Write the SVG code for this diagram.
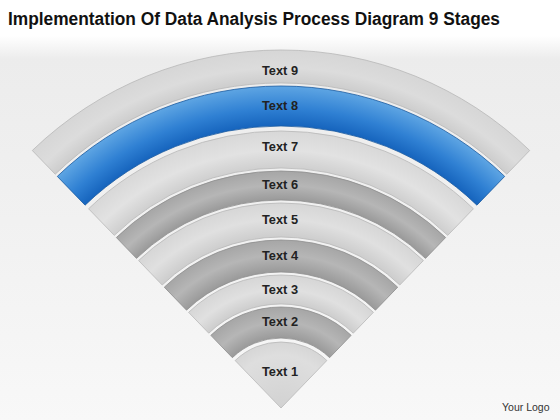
<svg xmlns="http://www.w3.org/2000/svg" width="560" height="420" viewBox="0 0 560 420">
<style>
.t{font-family:"Liberation Sans",Arial,sans-serif;font-weight:bold;font-size:13.5px;fill:#222;text-anchor:middle}
.ti{font-family:"Liberation Sans",Arial,sans-serif;font-weight:bold;font-size:17.5px;fill:#111}
.lg{font-family:"Liberation Sans",Arial,sans-serif;font-size:10.5px;fill:#333}
.lt{stroke:#b8b8b8;stroke-width:0.8}
.dk{stroke:#8e8e8e;stroke-width:0.8}
.bl{stroke:#1a5aa0;stroke-width:0.8}
</style>
<defs>
<linearGradient id="bg" x1="0" y1="0" x2="0" y2="420" gradientUnits="userSpaceOnUse">
<stop offset="0" stop-color="#ffffff"/>
<stop offset="0.085" stop-color="#ffffff"/>
<stop offset="0.14" stop-color="#ececec"/>
<stop offset="0.6" stop-color="#f2f2f2"/>
<stop offset="1" stop-color="#f8f8f8"/>
</linearGradient>
<radialGradient id="g9" cx="281" cy="408" r="358" gradientUnits="userSpaceOnUse"><stop offset="0.908" stop-color="#cdcdcd"/><stop offset="0.95" stop-color="#dcdcdc"/><stop offset="1" stop-color="#d6d6d6"/></radialGradient>
<radialGradient id="g8" cx="281" cy="408" r="322" gradientUnits="userSpaceOnUse"><stop offset="0.876" stop-color="#1664bd"/><stop offset="0.93" stop-color="#2f80d3"/><stop offset="1" stop-color="#5ea5e3"/></radialGradient>
<radialGradient id="g7" cx="281" cy="408" r="277" gradientUnits="userSpaceOnUse"><stop offset="0.866" stop-color="#cfcfcf"/><stop offset="0.93" stop-color="#e2e2e2"/><stop offset="1" stop-color="#d8d8d8"/></radialGradient>
<radialGradient id="g6" cx="281" cy="408" r="237" gradientUnits="userSpaceOnUse"><stop offset="0.878" stop-color="#9a9a9a"/><stop offset="0.94" stop-color="#b6b6b6"/><stop offset="1" stop-color="#a6a6a6"/></radialGradient>
<radialGradient id="g5" cx="281" cy="408" r="205" gradientUnits="userSpaceOnUse"><stop offset="0.834" stop-color="#cdcdcd"/><stop offset="0.92" stop-color="#e0e0e0"/><stop offset="1" stop-color="#d6d6d6"/></radialGradient>
<radialGradient id="g4" cx="281" cy="408" r="168" gradientUnits="userSpaceOnUse"><stop offset="0.81" stop-color="#9a9a9a"/><stop offset="0.91" stop-color="#b6b6b6"/><stop offset="1" stop-color="#a6a6a6"/></radialGradient>
<radialGradient id="g3" cx="281" cy="408" r="133" gradientUnits="userSpaceOnUse"><stop offset="0.782" stop-color="#cdcdcd"/><stop offset="0.89" stop-color="#e0e0e0"/><stop offset="1" stop-color="#d6d6d6"/></radialGradient>
<radialGradient id="g2" cx="281" cy="408" r="101" gradientUnits="userSpaceOnUse"><stop offset="0.693" stop-color="#9a9a9a"/><stop offset="0.85" stop-color="#b6b6b6"/><stop offset="1" stop-color="#a6a6a6"/></radialGradient>
<radialGradient id="g1" cx="281" cy="408" r="66" gradientUnits="userSpaceOnUse"><stop offset="0" stop-color="#d2d2d2"/><stop offset="0.8" stop-color="#dedede"/><stop offset="1" stop-color="#d6d6d6"/></radialGradient>
</defs>
<rect x="0" y="0" width="560" height="420" fill="url(#bg)"/>
<text class="ti" x="8" y="25" textLength="492" lengthAdjust="spacingAndGlyphs">Implementation Of Data Analysis Process Diagram 9 Stages</text>

<g id="stage9">
<path class="lt" fill="url(#g9)" d="M32.30,150.49 A358,358 0 0 1 529.70,150.49 L506.78,174.23 A325,325 0 0 0 55.22,174.23 Z"/>
<text class="t" x="280" y="75" textLength="36" lengthAdjust="spacingAndGlyphs">Text 9</text>
</g>
<g id="stage8">
<path class="bl" fill="url(#g8)" d="M57.31,176.39 A322,322 0 0 1 504.69,176.39 L476.91,205.16 A282,282 0 0 0 85.09,205.16 Z"/>
<text class="t" x="280" y="110" textLength="36" lengthAdjust="spacingAndGlyphs">Text 8</text>
</g>
<g id="stage7">
<path class="lt" fill="url(#g7)" d="M88.57,208.75 A277,277 0 0 1 473.43,208.75 L447.73,235.37 A240,240 0 0 0 114.27,235.37 Z"/>
<text class="t" x="280" y="151" textLength="36" lengthAdjust="spacingAndGlyphs">Text 7</text>
</g>
<g id="stage6">
<path class="dk" fill="url(#g6)" d="M116.36,237.53 A237,237 0 0 1 445.64,237.53 L425.50,258.39 A208,208 0 0 0 136.50,258.39 Z"/>
<text class="t" x="280" y="189" textLength="36" lengthAdjust="spacingAndGlyphs">Text 6</text>
</g>
<g id="stage5">
<path class="lt" fill="url(#g5)" d="M138.59,260.54 A205,205 0 0 1 423.41,260.54 L399.79,285.00 A171,171 0 0 0 162.21,285.00 Z"/>
<text class="t" x="280" y="224" textLength="36" lengthAdjust="spacingAndGlyphs">Text 5</text>
</g>
<g id="stage4">
<path class="dk" fill="url(#g4)" d="M164.29,287.16 A168,168 0 0 1 397.71,287.16 L375.48,310.18 A136,136 0 0 0 186.52,310.18 Z"/>
<text class="t" x="280" y="260" textLength="36" lengthAdjust="spacingAndGlyphs">Text 4</text>
</g>
<g id="stage3">
<path class="lt" fill="url(#g3)" d="M188.60,312.33 A133,133 0 0 1 373.40,312.33 L353.25,333.19 A104,104 0 0 0 208.75,333.19 Z"/>
<text class="t" x="280" y="294" textLength="36" lengthAdjust="spacingAndGlyphs">Text 3</text>
</g>
<g id="stage2">
<path class="dk" fill="url(#g2)" d="M210.84,335.35 A101,101 0 0 1 351.16,335.35 L329.63,357.65 A70,70 0 0 0 232.37,357.65 Z"/>
<text class="t" x="280" y="326" textLength="36" lengthAdjust="spacingAndGlyphs">Text 2</text>
</g>
<g id="stage1">
<path class="lt" fill="url(#g1)" d="M235.15,360.53 A66,66 0 0 1 326.85,360.53 L281,408 Z"/>
<text class="t" x="280" y="376" textLength="36" lengthAdjust="spacingAndGlyphs">Text 1</text>
</g>

<text class="lg" x="502" y="411">Your Logo</text>
</svg>
